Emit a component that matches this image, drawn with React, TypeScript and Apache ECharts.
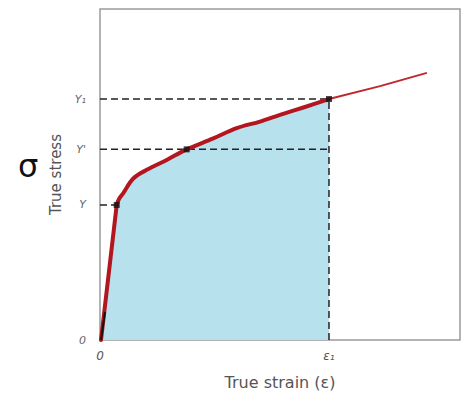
import React, { useEffect, useRef } from "react";
import * as echarts from "echarts";

// True stress-strain curve (abstract units, 0..100 on both axes)
const elasticX = [0.28, 4.64];
const elasticY = [0, 40.8];
const plasticX = [4.64, 5.28, 6.47, 9.25, 12.97, 18.53, 24.08, 31.47, 37.97, 44.44, 50.0, 56.94, 63.61];
const plasticY = [40.8, 42.6, 44.4, 48.8, 51.4, 54.4, 57.6, 60.9, 64.0, 66.0, 68.0, 70.4, 72.8];
const extX = [63.61, 77.8, 90.8];
const extY = [72.8, 76.7, 80.7];
const originX = [0.28, 1.39];
const originY = [0, 8.5];

const yTickValues = [0, 40.8, 57.6, 72.8];
const yTickLabels = ["0", "Y", "Y'", "Y\u2081"];
const xTickValues = [0, 63.61];
const xTickLabels = ["0", "\u03b5\u2081"];

const markX = [4.64, 24.08, 63.61];
const markY = [40.8, 57.6, 72.8];

const xName = "True strain (\u03b5)";
const yName = "True stress";

export default function App() {
  const ref = useRef<HTMLDivElement>(null);
  useEffect(() => {
    if (!ref.current) return;
    const chart = echarts.init(ref.current, null, { renderer: "svg" });
    const zip = (xs: number[], ys: number[]) => xs.map((x, i) => [x, ys[i]]);
    const eps1 = xTickValues[1];
    const dash = { color: "#222", width: 1.5, type: [7, 4] as number[] };
    const dashed = (data: number[][]) => ({
      type: "line",
      data,
      symbol: "none",
      lineStyle: dash,
      z: 3,
      silent: true,
    });
    const red = "#b3161f";
    const areaData = zip(elasticX, elasticY).concat(zip(plasticX.slice(1), plasticY.slice(1)));
    chart.setOption({
      animation: false,
      backgroundColor: "#ffffff",
      grid: {
        left: 100,
        top: 9,
        right: 8,
        bottom: 59,
        show: true,
        borderColor: "#9a9a9a",
        borderWidth: 1.5,
        backgroundColor: "transparent",
      },
      xAxis: {
        type: "value",
        min: 0,
        max: 100,
        axisLine: { show: false },
        axisTick: { show: false },
        splitLine: { show: false },
        axisLabel: {
          customValues: xTickValues,
          formatter: (v: number) => xTickLabels[xTickValues.indexOf(v)] ?? "",
          color: "#555",
          fontSize: 12,
          fontStyle: "italic",
          margin: 10,
          fontFamily: "DejaVu Sans",
        },
        name: xName,
        nameLocation: "middle",
        nameGap: 34,
        nameTextStyle: { color: "#555", fontSize: 16, fontFamily: "DejaVu Sans" },
      },
      yAxis: {
        type: "value",
        min: 0,
        max: 100,
        axisLine: { show: false },
        axisTick: { show: false },
        splitLine: { show: false },
        axisLabel: {
          customValues: yTickValues,
          formatter: (v: number) => yTickLabels[yTickValues.indexOf(v)] ?? "",
          color: "#666",
          fontSize: 11,
          fontStyle: "italic",
          margin: 14,
          fontFamily: "DejaVu Sans",
        },
        name: yName,
        nameLocation: "middle",
        nameRotate: 90,
        nameGap: 30,
        nameTextStyle: { color: "#555", fontSize: 15, fontFamily: "DejaVu Sans" },
      },
      graphic: [
        {
          type: "text",
          left: 18,
          top: 150,
          style: { text: "\u03c3", fontSize: 32, fill: "#111", fontFamily: "DejaVu Sans" },
        },
        {
          type: "text",
          left: 214,
          top: 232,
          style: {
            text: "u\u2081",
            fontSize: 15,
            fontStyle: "italic",
            fill: "#333",
            fontFamily: "DejaVu Sans",
          },
        },
      ],
      series: [
        {
          type: "line",
          data: areaData,
          symbol: "none",
          lineStyle: { width: 0, opacity: 0 },
          areaStyle: { color: "#b8e1ee", opacity: 1 },
          z: 2,
          silent: true,
        },
        {
          type: "line",
          data: zip(elasticX, elasticY),
          symbol: "none",
          lineStyle: { color: red, width: 4, join: "round", cap: "round" },
          z: 4,
        },
        {
          type: "line",
          data: zip(plasticX, plasticY),
          symbol: "none",
          smooth: 0.35,
          lineStyle: { color: red, width: 4, join: "round", cap: "round" },
          z: 4,
        },
        dashed([[0, markY[2]], [eps1, markY[2]]]),
        dashed([[0, markY[1]], [eps1, markY[1]]]),
        dashed([[0, markY[0]], [markX[0], markY[0]]]),
        dashed([[eps1, 0], [eps1, markY[2]]]),
        {
          type: "line",
          data: zip(extX, extY),
          symbol: "none",
          lineStyle: { color: "#c0262c", width: 2 },
          z: 4,
        },
        {
          type: "line",
          data: zip(originX, originY),
          symbol: "none",
          lineStyle: { color: "#111", width: 2 },
          z: 5,
        },
        {
          type: "scatter",
          data: zip(markX, markY),
          symbol: "rect",
          symbolSize: 6,
          itemStyle: { color: "#111" },
          z: 6,
        },
      ],
    });
    return () => chart.dispose();
  }, []);
  return (
    <div
      ref={ref}
      style={{ position: "fixed", left: 0, top: 0, width: 468, height: 399, background: "#fff" }}
    />
  );
}
